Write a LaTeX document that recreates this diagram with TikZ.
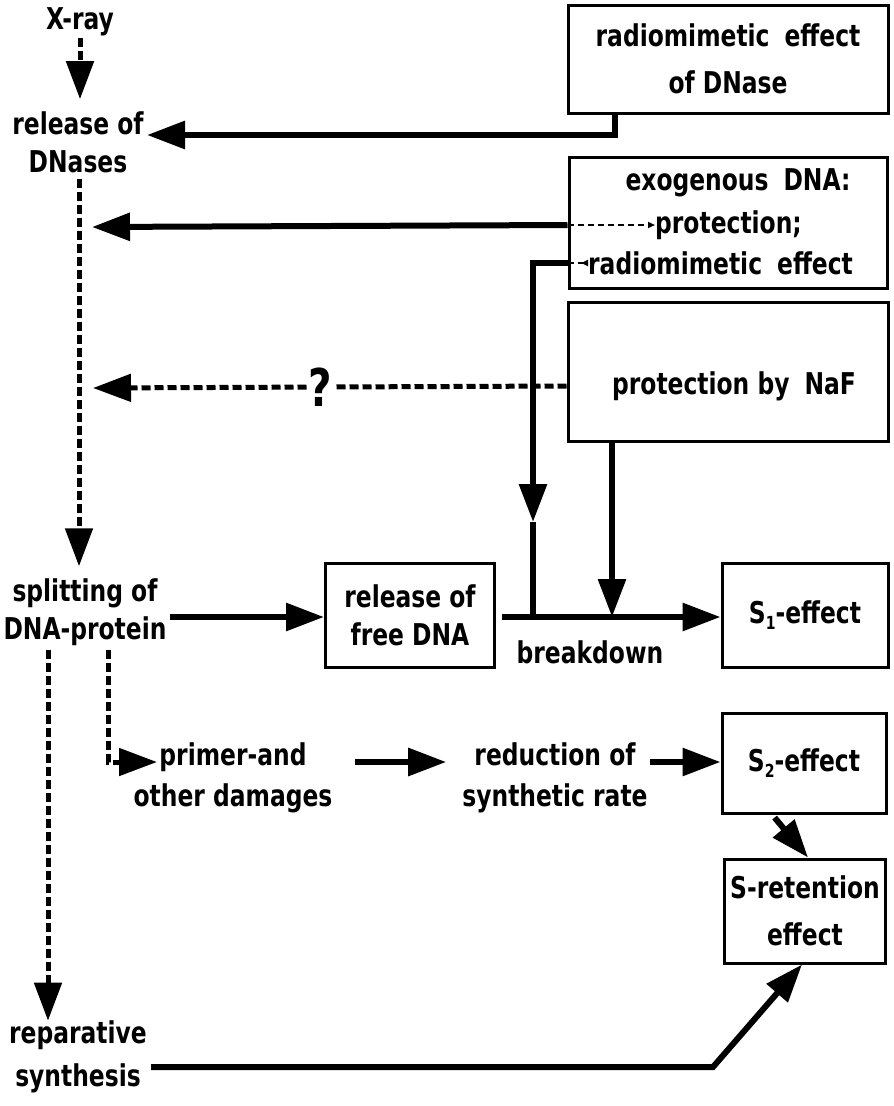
\documentclass[tikz,border=0pt]{standalone}
\usepackage{fontspec}
\setmainfont{DejaVu Sans}[FakeStretch=0.78]
\usetikzlibrary{arrows.meta,positioning}

\newcommand{\subidx}[1]{\raisebox{-0.35ex}{\fontsize{18}{18}\selectfont #1}}

\tikzset{
  lbl/.style={font=\fontsize{30}{38}\selectfont\bfseries, align=center, inner sep=0pt},
  fbox/.style={lbl, draw, line width=3pt},
  solidarr/.style={line width=6pt, -{Triangle[length=38pt,width=27pt]}},
  dasharr/.style={line width=5pt, dash pattern=on 9pt off 4pt, -{Triangle[length=38pt,width=27pt]}},
  thinstub/.style={line width=2pt, dash pattern=on 6pt off 4pt},
}

\begin{document}
\begin{tikzpicture}[x=1pt,y=-1pt]
\useasboundingbox (0,0) rectangle (894,1106);

% boxes on the right
\node[fbox, minimum width=320pt, minimum height=108pt] (dnase) at (728,59) {radiomimetic\enspace effect\\[9pt]of DNase};
\node[fbox, minimum width=318pt, minimum height=131pt] (exo) at (728,223) {};
\node[lbl] (exoA) at (738,183) {exogenous\enspace DNA:};
\node[lbl, anchor=west] (exoP) at (655,225) {protection;};
\node[lbl, anchor=west] (exoR) at (588,263) {radiomimetic\enspace effect};
\node[fbox, minimum width=320pt, minimum height=139pt] (naf) at (728,372) {};
\node[lbl] (nafT) at (734,386) {protection by\enspace NaF};
\node[fbox, minimum width=169pt, minimum height=104pt] (free) at (410,615) {release of\\free DNA};
\node[fbox, minimum width=166pt, minimum height=104pt] (sone) at (805,615) {S\subidx{1}-effect};
\node[fbox, minimum width=164pt, minimum height=100pt] (stwo) at (804,763) {S\subidx{2}-effect};
\node[fbox, minimum width=161pt, minimum height=104pt] (sret) at (805,911) {S-retention\\[9pt]effect};

% free labels
\node[lbl] (xray) at (80,22) {X-ray};
\node[lbl] (relD) at (78,142) {release of\\DNases};
\node[lbl] (split) at (85,612) {splitting of\\DNA-protein};
\node[lbl] (primer) at (233,778) {primer-and\\[3pt]other damages};
\node[lbl] (reduc) at (555,778) {reduction of\\[3pt]synthetic rate};
\node[lbl] (repar) at (78,1057) {reparative\\[5pt]synthesis};
\node[lbl] (brk) at (590,652) {breakdown};

% free ends
\coordinate (dnTip) at (147,135);
\coordinate (exoTip) at (92,227);
\coordinate (nafTip) at (93,388);
\coordinate (radMid) at (533,522);
\coordinate (brkStart) at (502,617);
\coordinate (splitOut) at (170,617);
\coordinate (primIn) at (157,762);
\coordinate (reparBend) at (713,1067);

% left column
\draw[dasharr, shorten <=2pt, shorten >=12pt] (xray.south) -- (xray.south |- relD.north);
\draw[dasharr, shorten <=6pt, shorten >=12pt] (relD.south -| 79,0) -- (split.north -| 79,0);
\draw[dasharr, shorten <=4pt] ([xshift=-37pt]split.south) -- ([xshift=-37pt]split.south |- repar.north);
\draw[dasharr, shorten <=4pt] ([xshift=23pt]split.south) |- (primIn);

% arrows from the boxes
\draw[solidarr] ([xshift=-113pt]dnase.south) |- (dnTip);
\draw[solidarr] (exo.west |- exoP) -- (exoTip);
\draw[thinstub, -{Triangle[length=7pt,width=6pt]}] (exo.west |- exoP) -- (exoP.west);
\draw[thinstub, {Triangle[reversed,length=7pt,width=6pt]}-] (exoR.west) -- (exo.west |- exoR);
\draw[solidarr] (exo.west |- exoR) -| (radMid);
\draw[line width=6pt] (radMid) -- (radMid |- brkStart);
\draw[dasharr] (naf.west |- nafT) -- (nafTip)
  node[pos=0.52, lbl, font=\fontsize{52}{52}\selectfont\bfseries, fill=white, inner sep=1pt] (qmark) {?};
\draw[solidarr] ([xshift=-116pt]naf.south) -- ([xshift=-116pt]naf.south |- brkStart);

% main flow
\draw[solidarr] (splitOut) -- (free.west |- splitOut);
\draw[solidarr] (brkStart) -- (sone.west |- brkStart);
\draw[solidarr, shorten <=22pt, shorten >=16pt] (primer.east |- primIn) -- (reduc.west |- primIn);
\draw[solidarr, shorten <=2pt] (reduc.east |- primIn) -- (stwo.west |- primIn);
\draw[solidarr, shorten <=4pt] ([xshift=-32pt]stwo.south) -- ([xshift=3pt]sret.north);
\draw[solidarr] ([yshift=-10pt, xshift=4pt]repar.east) -- (reparBend) -- ([xshift=-3pt]sret.south);
\end{tikzpicture}
\end{document}
